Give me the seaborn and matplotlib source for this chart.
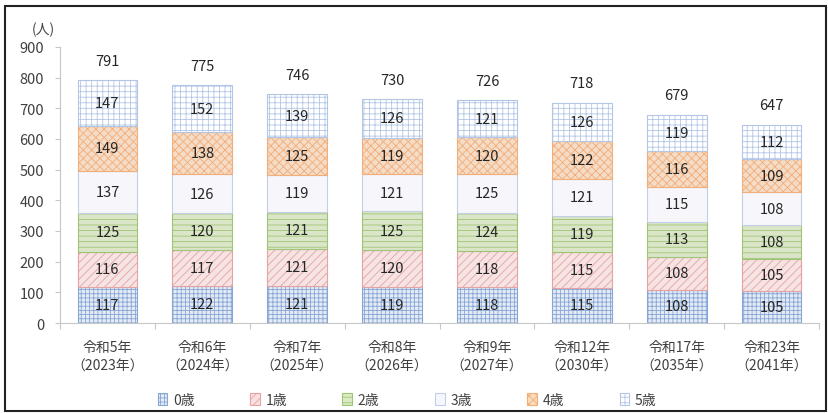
import matplotlib
matplotlib.use("Agg")
import matplotlib.pyplot as plt
from matplotlib.patches import Rectangle, Patch
import numpy as np
import pandas as pd
import seaborn as sns

# 年次（x軸）
years = ["令和5年\n（2023年）", "令和6年\n（2024年）", "令和7年\n（2025年）",
         "令和8年\n（2026年）", "令和9年\n（2027年）", "令和12年\n（2030年）",
         "令和17年\n（2035年）", "令和23年\n（2041年）"]

# 年齢別人数（人）
age_labels = ["0歳", "1歳", "2歳", "3歳", "4歳", "5歳"]
age0 = [117, 122, 121, 119, 118, 115, 108, 105]
age1 = [116, 117, 121, 120, 118, 115, 108, 105]
age2 = [125, 120, 121, 125, 124, 119, 113, 108]
age3 = [137, 126, 119, 121, 125, 121, 115, 108]
age4 = [149, 138, 125, 119, 120, 122, 116, 109]
age5 = [147, 152, 139, 126, 121, 126, 119, 112]
totals = [791, 775, 746, 730, 726, 718, 679, 647]

yticks = [0, 100, 200, 300, 400, 500, 600, 700, 800, 900]

series = [age0, age1, age2, age3, age4, age5]

# 塗り・ハッチの設定
styles = [
    dict(face="#e3ebf7", edge="#86a6d6", hatch="++++"),
    dict(face="#f9e0e0", edge="#e6a3a3", hatch="////"),
    dict(face="#dcebc4", edge="#9fc476", hatch="---"),
    dict(face="#f6f6fc", edge="#c3cfe8", hatch=None),
    dict(face="#fcdcbf", edge="#f2ad78", hatch="xxxx"),
    dict(face="#ffffff", edge="#b3c6e6", hatch="+++"),
]

sns.set_theme(style="white")
plt.rcParams["font.family"] = ["Noto Sans CJK JP", "DejaVu Sans"]
plt.rcParams["hatch.linewidth"] = 0.6

fig = plt.figure(figsize=(8.29, 4.14), dpi=100)
ax = fig.add_axes([60 / 829, 1 - 324 / 414, (819 - 60) / 829, (324 - 48) / 414])

bottom = np.zeros(len(years))
for label, vals, st in zip(age_labels, series, styles):
    df = pd.DataFrame({"year": years, "count": vals})
    sns.barplot(data=df, x="year", y="count", ax=ax, color=st["face"],
                bottom=bottom.copy(), width=0.63, errorbar=None,
                edgecolor=st["edge"], linewidth=0.8, hatch=st["hatch"])
    for i, v in enumerate(vals):
        ax.text(i, bottom[i] + v / 2, str(v), ha="center", va="center",
                fontsize=10.5, color="#262626")
    bottom += np.array(vals)

for i, t in enumerate(totals):
    ax.annotate(str(t), (i, t), xytext=(0, 14), textcoords="offset points",
                ha="center", va="center", fontsize=10.5, color="#262626")

ax.set_xlim(-0.5, len(years) - 0.5)
ax.set_ylim(0, 900)
ax.set_yticks(yticks)
ax.set_yticklabels([str(v) for v in yticks])
ax.set_xlabel("")
ax.set_ylabel("")

for side in ["top", "right"]:
    ax.spines[side].set_visible(False)
for side in ["left", "bottom"]:
    ax.spines[side].set_color("#c8c8c8")
    ax.spines[side].set_linewidth(0.8)

ax.tick_params(axis="y", left=True, length=3.5, width=0.8, color="#c8c8c8",
               pad=8, labelsize=10.5, labelcolor="#404040")
ax.tick_params(axis="x", which="major", bottom=False, length=0, pad=12,
               labelsize=10, labelcolor="#404040")
ax.set_xticks(np.arange(-0.5, len(years), 1.0), minor=True)
ax.tick_params(axis="x", which="minor", bottom=True, length=4, width=0.8,
               color="#c8c8c8")
for lab in ax.get_xticklabels():
    lab.set_linespacing(1.45)

fig.text(43 / 829, 1 - 30 / 414, "(人)", ha="center", va="center",
         fontsize=10, color="#404040")

handles = [Patch(facecolor=st["face"], edgecolor=st["edge"], hatch=st["hatch"],
                 linewidth=0.8) for st in styles]
fig.legend(handles, age_labels, loc="center", bbox_to_anchor=(407 / 829, 1 - 401 / 414),
           ncol=6, frameon=False, fontsize=10, handlelength=0.7, handleheight=0.9,
           handletextpad=0.4, columnspacing=4.0, labelcolor="#404040")

# 外枠
fig.patches.append(Rectangle((5 / 829, 2 / 414), 821 / 829, 405 / 414,
                             transform=fig.transFigure, fill=False,
                             edgecolor="#222222", linewidth=1.5))

fig.savefig("out.png", dpi=100)
